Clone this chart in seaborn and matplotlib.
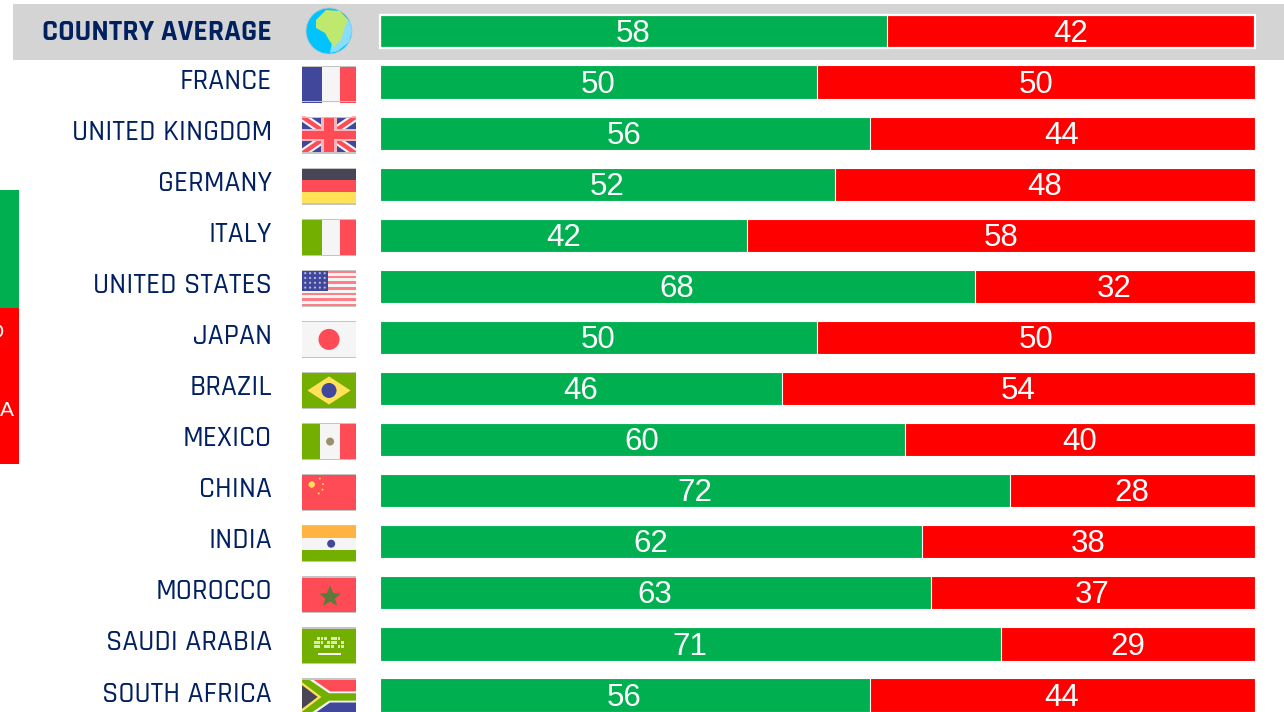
import matplotlib
matplotlib.use("Agg")
import matplotlib.pyplot as plt
from matplotlib.patches import Rectangle, Polygon, Circle
import seaborn as sns
import pandas as pd
import logging
logging.getLogger("matplotlib.font_manager").setLevel(logging.ERROR)

countries = ["COUNTRY AVERAGE", "FRANCE", "UNITED KINGDOM", "GERMANY", "ITALY",
             "UNITED STATES", "JAPAN", "BRAZIL", "MEXICO", "CHINA", "INDIA",
             "MOROCCO", "SAUDI ARABIA", "SOUTH AFRICA"]
green_vals = [58, 50, 56, 52, 42, 68, 50, 46, 60, 72, 62, 63, 71, 56]
red_vals = [42, 50, 44, 48, 58, 32, 50, 54, 40, 28, 38, 37, 29, 44]

GREEN = "#00B050"
RED = "#FF0000"
NAVY = "#002060"
W, H = 1284, 712
LABEL_FONT = ["Rajdhani", "Lato", "DejaVu Sans"]

sns.set_theme(style="white")
plt.rcParams["font.family"] = ["Liberation Sans", "DejaVu Sans"]
df = pd.DataFrame({"country": countries, "green": green_vals, "red": red_vals})
df["total"] = df["green"] + df["red"]

fig = plt.figure(figsize=(W / 100, H / 100), dpi=100)
fig.patch.set_facecolor("white")

# overlay in pixel coordinates for decoration
bg = fig.add_axes([0, 0, 1, 1], zorder=0)
bg.set_xlim(0, W)
bg.set_ylim(H, 0)
bg.axis("off")
bg.add_patch(Rectangle((13, 4), W - 13, 56, fc="#D4D4D4", ec="none"))
bg.add_patch(Rectangle((0, 190), 19, 118, fc=GREEN, ec="none"))
bg.add_patch(Rectangle((0, 308), 19, 156, fc=RED, ec="none"))
bg.text(-12, 333, "O", color="white", fontsize=15, ha="left", va="center", family="Liberation Sans")
bg.text(0, 410, "A", color="white", fontsize=15, ha="left", va="center", family="Liberation Sans")

# bars
left, right = 379.5, 1254.5
c0, step = 31, 51.08
ax = fig.add_axes([left / W, 0, (right - left) / W, 1], zorder=1)
ax.patch.set_alpha(0)
sns.barplot(data=df, y="country", x="total", color=RED, saturation=1, width=0.65,
            edgecolor="white", linewidth=0.8, ax=ax, orient="h")
sns.barplot(data=df, y="country", x="green", color=GREEN, saturation=1, width=0.65,
            edgecolor="white", linewidth=0.8, ax=ax, orient="h")
ax.set_xlim(0, 100)
ax.set_ylim((H - c0) / step, -c0 / step)
ax.axis("off")

for i, (g, r) in enumerate(zip(green_vals, red_vals)):
    ax.text(g / 2, i + 0.05, str(g), color="white", fontsize=22.5, ha="center", va="center",
            family="Liberation Sans")
    ax.text(g + r / 2, i + 0.05, str(r), color="white", fontsize=22.5, ha="center", va="center",
            family="Liberation Sans")
# thick white frame on the average row
bg2 = fig.add_axes([0, 0, 1, 1], zorder=2)
bg2.set_xlim(0, W)
bg2.set_ylim(H, 0)
bg2.axis("off")
bg2.patch.set_alpha(0)
bg2.add_patch(Rectangle((380, 14.5), 875, 33, fc="none", ec="white", lw=1.6))

# country labels
for i, name in enumerate(countries):
    y = c0 + step * i - (0 if i == 0 else 2)
    bg2.text(272, y, name, color=NAVY, ha="right", va="center", family=LABEL_FONT,
             fontsize=21.6 if i == 0 else 21.2, fontweight="bold" if i == 0 else 500)

# flags
BL, WH, RD, GN, DK, YL, OR = "#41479B", "#F5F5F5", "#FF4B55", "#73AF00", "#464655", "#FFE15A", "#FFB441"

def flag(i, draw):
    x0, y0, w, h = 302, 65.5 + step * (i - 1), 54, 37
    sub = lambda u, v: (x0 + u * w, y0 + v * h)
    def rect(u, v, du, dv, c):
        bg2.add_patch(Rectangle(sub(u, v), du * w, dv * h, fc=c, ec="none"))
    def poly(pts, c):
        bg2.add_patch(Polygon([sub(*p) for p in pts], fc=c, ec="none"))
    def circ(u, v, r, c):
        bg2.add_patch(Circle(sub(u, v), r, fc=c, ec="none"))
    draw(rect, poly, circ)
    bg2.add_patch(Rectangle((x0, y0), w, 1.2, fc="#C4C4C4", ec="none"))
    bg2.add_patch(Rectangle((x0, y0 + h - 1.2), w, 1.2, fc="#C4C4C4", ec="none"))

def tri(a, b, c):
    def d(rect, poly, circ):
        rect(0, 0, 0.37, 1, a)
        rect(0.37, 0, 0.33, 1, b)
        rect(0.7, 0, 0.3, 1, c)
    return d

def hband(a, b, c):
    def d(rect, poly, circ):
        rect(0, 0, 1, 1 / 3, a)
        rect(0, 1 / 3, 1, 1 / 3, b)
        rect(0, 2 / 3, 1, 1 / 3, c)
    return d

def uk(rect, poly, circ):
    rect(0, 0, 1, 1, BL)
    t = 0.14
    poly([(0, 0), (t, 0), (1, 1 - t), (1, 1), (1 - t, 1), (0, t)], WH)
    poly([(1, 0), (1 - t, 0), (0, 1 - t), (0, 1), (t, 1), (1, t)], WH)
    poly([(0, 0), (t / 2, 0), (1, 1 - t / 2), (1, 1), (1 - t / 2, 1), (0, t / 2)], RD)
    poly([(1, 0), (1 - t / 2, 0), (0, 1 - t / 2), (0, 1), (t / 2, 1), (1, t / 2)], RD)
    rect(0.36, 0, 0.28, 1, "#F7B5B8")
    rect(0, 0.33, 1, 0.34, "#F7B5B8")
    rect(0.41, 0, 0.18, 1, RD)
    rect(0, 0.39, 1, 0.22, RD)

def us(rect, poly, circ):
    rect(0, 0, 1, 1, WH)
    for k in range(0, 13, 2):
        rect(0, k / 13, 1, 1 / 13, "#FF7F86")
    rect(0, 0, 0.48, 0.58, BL)
    for a in range(5):
        for b in range(4):
            circ(0.06 + a * 0.09, 0.09 + b * 0.13, 1.1, "#B9BBDD")

def japan(rect, poly, circ):
    rect(0, 0, 1, 1, WH)
    circ(0.5, 0.5, 10.5, RD)

def brazil(rect, poly, circ):
    rect(0, 0, 1, 1, GN)
    poly([(0.5, 0.12), (0.9, 0.5), (0.5, 0.88), (0.1, 0.5)], YL)
    circ(0.5, 0.5, 7.5, BL)

def mexico(rect, poly, circ):
    rect(0, 0, 0.33, 1, GN)
    rect(0.33, 0, 0.37, 1, WH)
    rect(0.7, 0, 0.3, 1, RD)
    circ(0.52, 0.5, 4, "#9A8F6A")

def china(rect, poly, circ):
    rect(0, 0, 1, 1, RD)
    circ(0.18, 0.28, 3.2, YL)
    for u, v in [(0.33, 0.12), (0.39, 0.27), (0.38, 0.42), (0.31, 0.52)]:
        circ(u, v, 1.0, YL)

def india(rect, poly, circ):
    hband(OR, WH, GN)(rect, poly, circ)
    circ(0.54, 0.5, 4, BL)

def morocco(rect, poly, circ):
    rect(0, 0, 1, 1, RD)
    poly([(0.52, 0.25), (0.58, 0.45), (0.72, 0.47), (0.61, 0.6), (0.65, 0.8),
          (0.52, 0.68), (0.39, 0.8), (0.43, 0.6), (0.32, 0.47), (0.46, 0.45)], "#5C7A3A")

def saudi(rect, poly, circ):
    rect(0, 0, 1, 1, GN)
    for a in range(9):
        for b in range(3):
            if (a + b) % 4:
                rect(0.22 + a * 0.063, 0.26 + b * 0.11, 0.05, 0.08, "#DCE8B8")
    rect(0.3, 0.7, 0.42, 0.05, WH)

def safrica(rect, poly, circ):
    rect(0, 0, 1, 0.5, RD)
    rect(0, 0.5, 1, 0.5, BL)
    poly([(0, 0), (0.18, 0), (0.52, 0.35), (1, 0.35), (1, 0.65), (0.52, 0.65), (0.18, 1), (0, 1)], WH)
    poly([(0, 0), (0.1, 0), (0.5, 0.4), (1, 0.4), (1, 0.6), (0.5, 0.6), (0.1, 1), (0, 1)], GN)
    poly([(0, 0.1), (0.36, 0.5), (0, 0.9)], YL)
    poly([(0, 0.18), (0.29, 0.5), (0, 0.82)], DK)

flags = {1: tri(BL, WH, RD), 2: uk, 3: hband(DK, RD, YL), 4: tri(GN, WH, RD), 5: us, 6: japan,
         7: brazil, 8: mexico, 9: china, 10: india, 11: morocco, 12: saudi, 13: safrica}
for i, d in flags.items():
    flag(i, d)

# globe
bg2.add_patch(Circle((329, 31), 23, fc="#00C3FF", ec="#B9C9C9", lw=0.6))
bg2.add_patch(Polygon([(338, 10), (350, 22), (352, 31), (349, 42), (338, 51), (330, 53)], fc="#88DDFF", ec="none"))
bg2.add_patch(Polygon([(316, 20), (326, 10), (340, 11), (348, 20), (345, 27), (341, 40), (334, 47), (329, 40), (325, 33), (316, 28)],
                      fc="#BEE86E", ec="none"))

fig.savefig("out.png", dpi=100)
